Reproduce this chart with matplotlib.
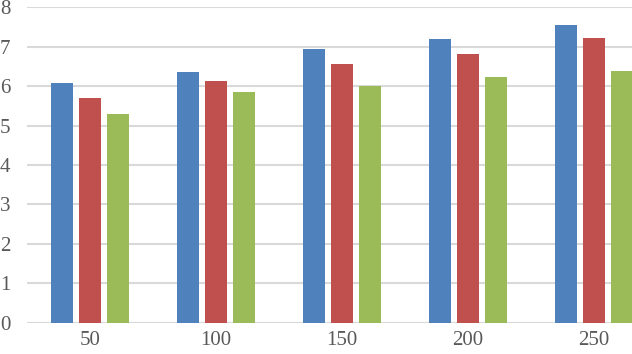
import numpy as np
import matplotlib
matplotlib.use('Agg')
import matplotlib.pyplot as plt

CATEGORIES = ['50', '100', '150', '200', '250']
SERIES_A = [6.09, 6.36, 6.95, 7.19, 7.56]
SERIES_B = [5.69, 6.12, 6.56, 6.81, 7.23]
SERIES_C = [5.30, 5.85, 6.00, 6.24, 6.39]
COLORS = ['#4F81BD', '#C0504D', '#9BBB59']

plt.rcParams['font.family'] = ['Liberation Serif', 'DejaVu Serif']

fig = plt.figure(figsize=(6.32, 3.54), dpi=100)
# axes runs past the right edge, like the cropped original
ax = fig.add_axes([27 / 632, 31.3 / 354, 630 / 632, 315.4 / 354])

x = np.arange(len(CATEGORIES))
width = 0.175
step = 0.222
for i, (vals, col) in enumerate(zip([SERIES_A, SERIES_B, SERIES_C], COLORS)):
    ax.bar(x + (i - 1) * step, vals, width, color=col, zorder=3)

ax.set_xlim(-0.5, len(CATEGORIES) - 0.5)
ax.set_ylim(0, 8)
ax.set_yticks(range(9))
ax.set_xticks(x)
ax.set_xticklabels(CATEGORIES)
ax.yaxis.grid(True, color='#d9d9d9', linewidth=1.5, zorder=0)
for s in ax.spines.values():
    s.set_visible(False)
ax.axhline(0, color='#d9d9d9', linewidth=1.5, zorder=1)
ax.tick_params(axis='both', length=0, labelsize=15, labelcolor='#595959')
ax.tick_params(axis='y', pad=12)
ax.tick_params(axis='x', pad=6)

fig.savefig('out.png', dpi=100)
